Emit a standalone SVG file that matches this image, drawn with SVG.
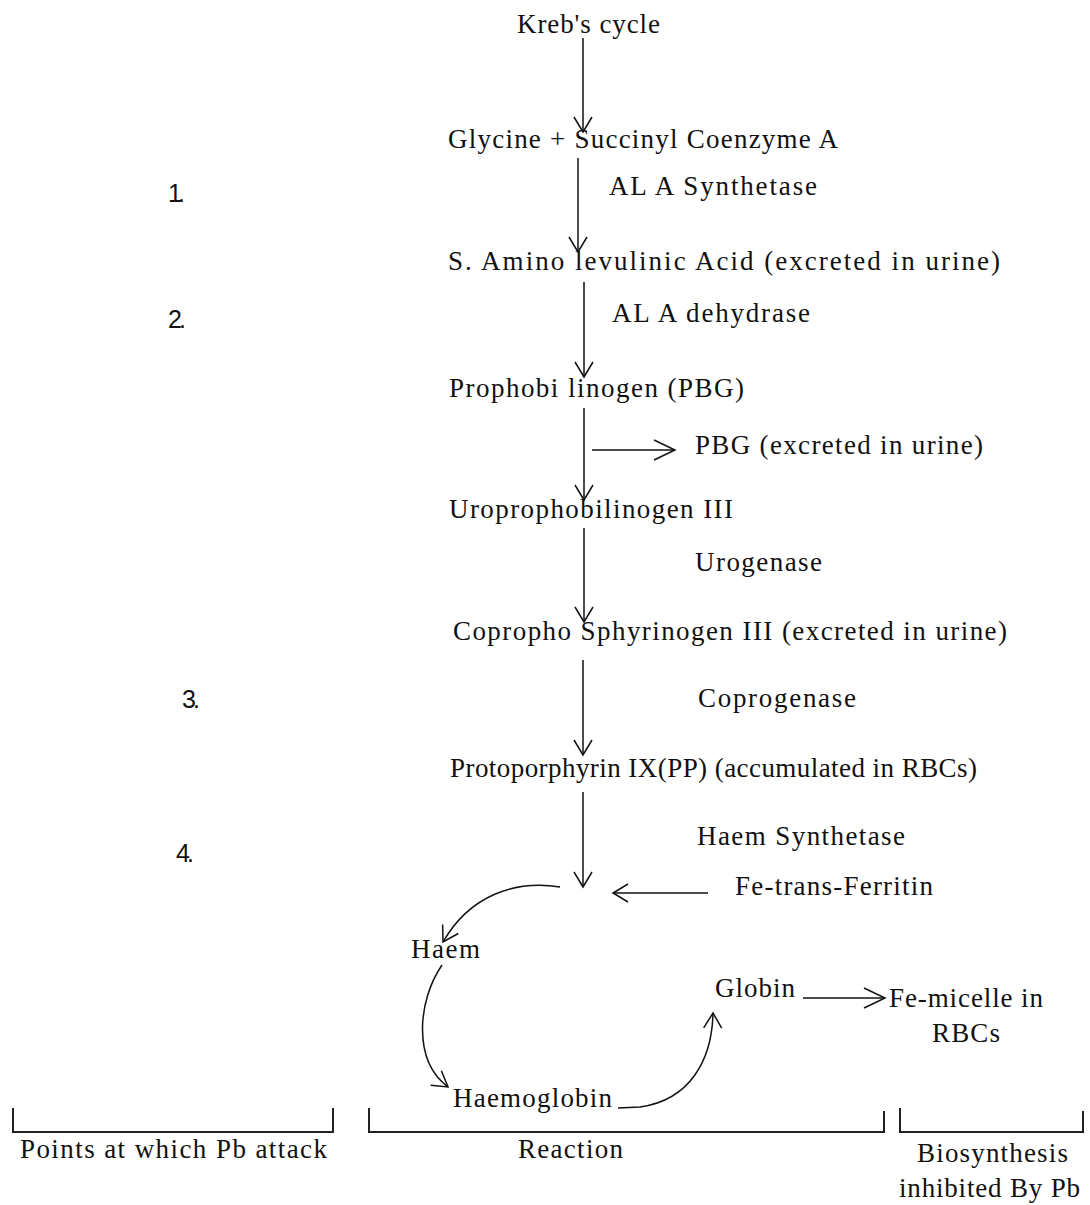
<svg xmlns="http://www.w3.org/2000/svg" width="1090" height="1205" viewBox="0 0 1090 1205">
<style>
text{font-family:"Liberation Serif","Times New Roman",serif;font-size:27px;fill:#111}
.num{font-family:"Liberation Sans",Arial,sans-serif;font-size:25px}
.c{fill:none;stroke:#111;stroke-width:1.5}
.br{fill:none;stroke:#222;stroke-width:2}
</style>
<defs>
<marker id="ah" viewBox="-17 -11 19 22" refX="0" refY="0" markerWidth="19" markerHeight="22" orient="auto" markerUnits="userSpaceOnUse"><path d="M-15,-9 L0,0 L-15,9" fill="none" stroke="#111" stroke-width="1.5"/></marker>
<marker id="ahw" viewBox="-23 -12 25 24" refX="0" refY="0" markerWidth="25" markerHeight="24" orient="auto" markerUnits="userSpaceOnUse"><path d="M-21,-10 L0,0 L-21,10" fill="none" stroke="#111" stroke-width="1.5"/></marker>
</defs>
<rect width="1090" height="1205" fill="#fff"/>
<g id="connectors">
<path class="c" d="M583,38 V132" marker-end="url(#ah)"/>
<path class="c" d="M578,158 V252" marker-end="url(#ah)"/>
<path class="c" d="M584,282 V377" marker-end="url(#ah)"/>
<path class="c" d="M584,408 V500" marker-end="url(#ah)"/>
<path class="c" d="M592,450 H675" marker-end="url(#ahw)"/>
<path class="c" d="M584,528 V622" marker-end="url(#ah)"/>
<path class="c" d="M583,660 V755" marker-end="url(#ah)"/>
<path class="c" d="M583,792 V887" marker-end="url(#ah)"/>
<path class="c" d="M708,893 H613" marker-end="url(#ah)"/>
<path class="c" d="M560,887 C515,880 470,895 443,942" marker-end="url(#ah)"/>
<path class="c" d="M442,965 C418,1000 412,1060 448,1087" marker-end="url(#ah)"/>
<path class="c" d="M618,1108 L640,1107 C690,1100 712,1060 713,1013" marker-end="url(#ah)"/>
<path class="c" d="M803,998 H885" marker-end="url(#ahw)"/>
</g>
<g id="brackets">
<path class="br" d="M13,1108 V1132 H333 V1108"/>
<path class="br" d="M369,1108 V1132 H884 V1111"/>
<path class="br" d="M900,1108 V1132 H1083 V1111"/>
</g>
<g id="n-krebs"><text x="517" y="33" textLength="143">Kreb's cycle</text></g>
<g id="n-glycine"><text x="448" y="148" textLength="390">Glycine + Succinyl Coenzyme A</text></g>
<g id="e-ala-syn"><text x="609" y="195" textLength="208">AL A Synthetase</text></g>
<g id="n-ala"><text x="448" y="270" textLength="552">S. Amino levulinic Acid (excreted in urine)</text></g>
<g id="e-ala-deh"><text x="612" y="322" textLength="198">AL A dehydrase</text></g>
<g id="n-pbg"><text x="449" y="397" textLength="295">Prophobi linogen (PBG)</text></g>
<g id="n-pbg-urine"><text x="695" y="454" textLength="288">PBG (excreted in urine)</text></g>
<g id="n-uro"><text x="449" y="518" textLength="284">Uroprophobilinogen III</text></g>
<g id="e-urogenase"><text x="695" y="571" textLength="127">Urogenase</text></g>
<g id="n-copro"><text x="453" y="640" textLength="554">Copropho Sphyrinogen III (excreted in urine)</text></g>
<g id="e-coprogenase"><text x="698" y="707" textLength="158">Coprogenase</text></g>
<g id="n-proto"><text x="450" y="777" textLength="527">Protoporphyrin IX(PP) (accumulated in RBCs)</text></g>
<g id="e-haem-syn"><text x="697" y="845" textLength="208">Haem Synthetase</text></g>
<g id="n-fe"><text x="735" y="895" textLength="198">Fe-trans-Ferritin</text></g>
<g id="n-haem"><text x="411" y="958" textLength="69">Haem</text></g>
<g id="n-globin"><text x="715" y="997" textLength="80">Globin</text></g>
<g id="n-femicelle"><text x="889" y="1007" textLength="154">Fe-micelle in</text><text x="932" y="1042" textLength="68">RBCs</text></g>
<g id="n-haemoglobin"><text x="453" y="1107" textLength="159">Haemoglobin</text></g>
<g id="labels">
<text class="num" x="168" y="202" textLength="17">1.</text>
<text class="num" x="168" y="328" textLength="18">2.</text>
<text class="num" x="182" y="708" textLength="18">3.</text>
<text class="num" x="176" y="862" textLength="18">4.</text>
<text x="20" y="1158" textLength="307">Points at which Pb attack</text>
<text x="518" y="1158" textLength="105">Reaction</text>
<text x="917" y="1162" textLength="151">Biosynthesis</text>
<text x="899" y="1197" textLength="181">inhibited By Pb</text>
</g>
</svg>
